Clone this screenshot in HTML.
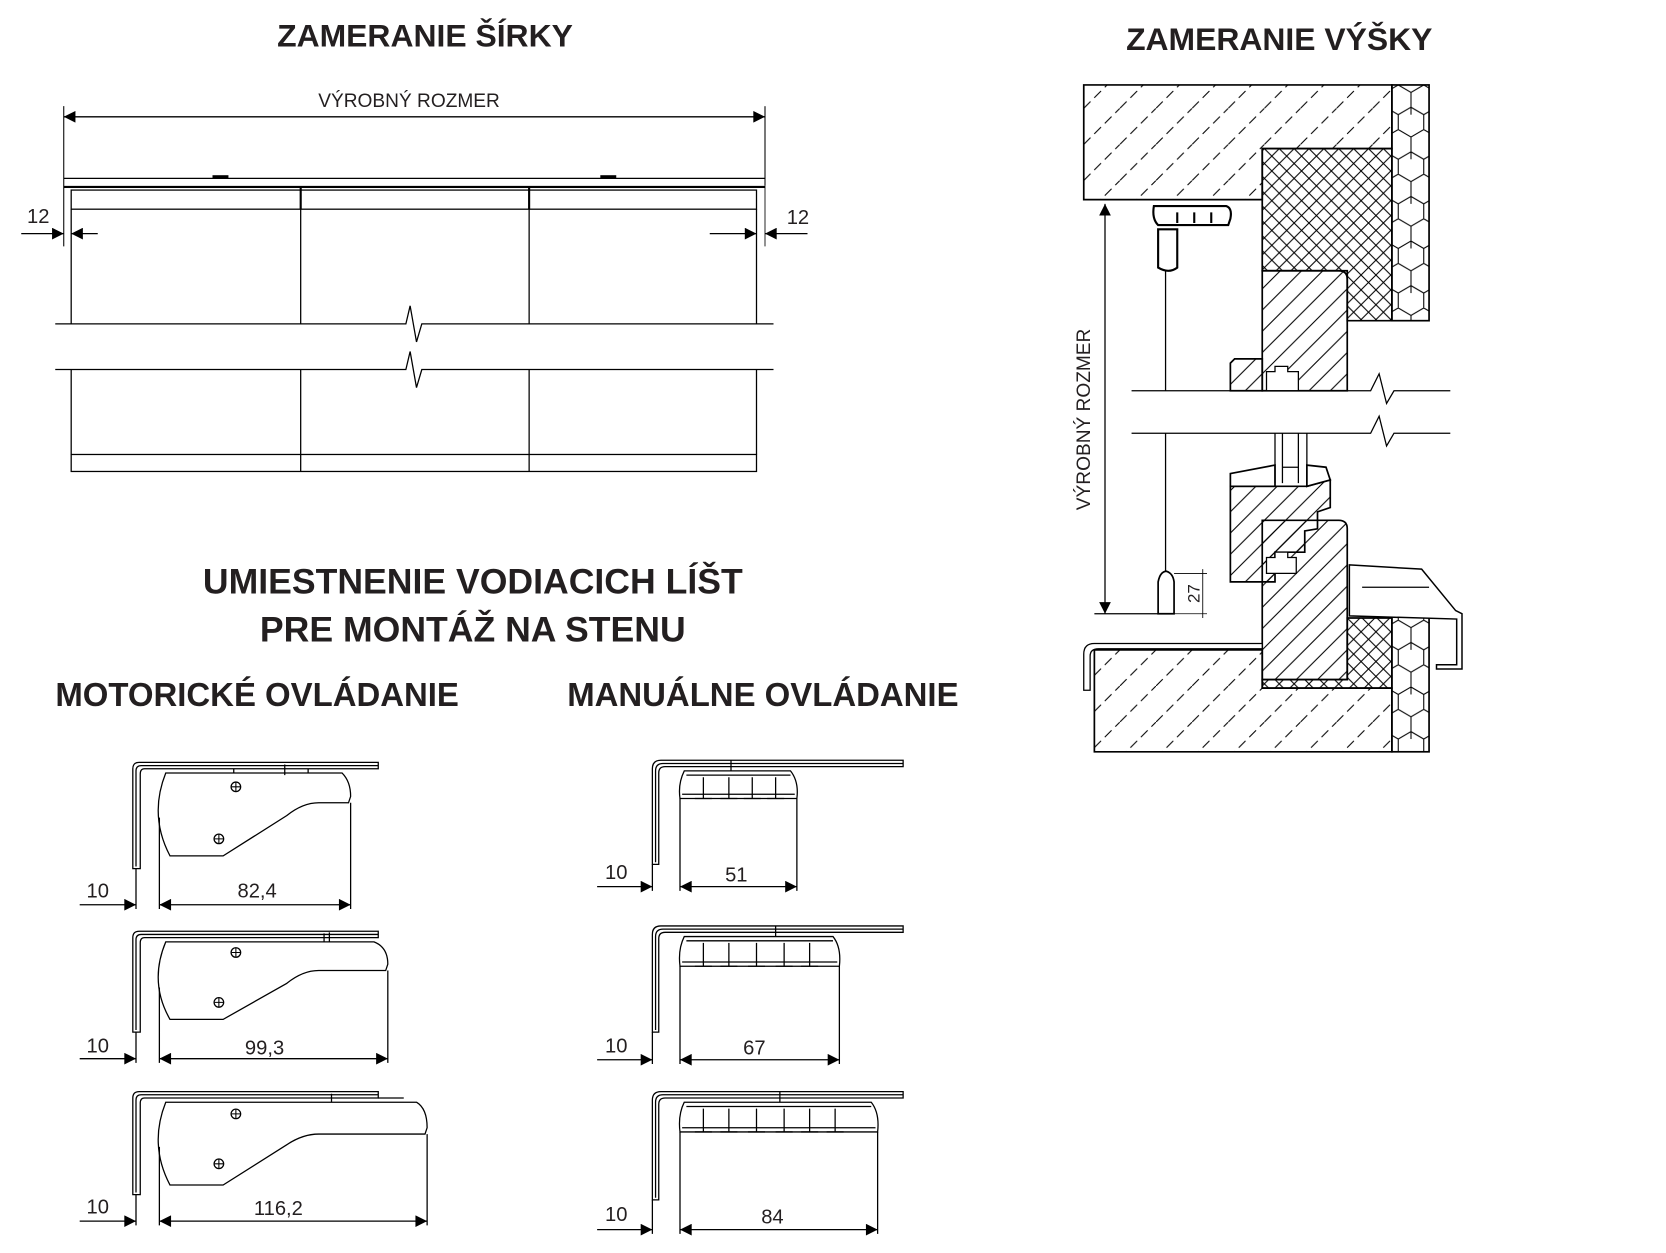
<!DOCTYPE html>
<html><head><meta charset="utf-8"><style>
html,body{margin:0;padding:0;background:#fff;width:1666px;height:1253px;overflow:hidden}
svg{display:block}
text{font-family:"Liberation Sans",sans-serif;fill:#231f20}
.t{font-weight:bold;font-size:30px}
.d{font-size:19px}
</style></head><body>
<svg width="1666" height="1253" viewBox="0 0 1568 1180" preserveAspectRatio="none" xmlns="http://www.w3.org/2000/svg">
<defs>
<marker id="ae" viewBox="0 0 10 10" refX="10" refY="5" markerWidth="17" markerHeight="11" markerUnits="userSpaceOnUse" orient="auto"><path d="M0,0 L10,5 L0,10 Z" fill="#000"/></marker>
<marker id="as" viewBox="0 0 10 10" refX="0" refY="5" markerWidth="17" markerHeight="11" markerUnits="userSpaceOnUse" orient="auto"><path d="M10,0 L0,5 L10,10 Z" fill="#000"/></marker>
<pattern id="conc" width="34" height="34" patternUnits="userSpaceOnUse"><path d="M0,34 L34,0" stroke="#000" stroke-width="1" stroke-dasharray="9 5"/></pattern>
<pattern id="cross" width="14" height="14" patternUnits="userSpaceOnUse"><path d="M0,0 L14,14 M14,0 L0,14" stroke="#000" stroke-width="1"/></pattern>
<pattern id="wood" width="20" height="20" patternUnits="userSpaceOnUse"><path d="M0,20 L20,0 M-5,5 L5,-5 M15,25 L25,15" stroke="#000" stroke-width="1"/></pattern>
<pattern id="hex" width="36" height="42" patternUnits="userSpaceOnUse" x="1310" y="80"><path d="M6,0 L18,7 L18,21 L6,28 L-6,21 L-6,7 Z M30,0 L42,7 L42,21 L30,28 L18,21 L18,7 Z M18,21 L30,28 L30,42 M6,28 L6,42 M18,21 L18,28" fill="none" stroke="#000" stroke-width="1"/></pattern>
</defs>

<text class="t" x="400" y="44" text-anchor="middle">ZAMERANIE ŠÍRKY</text>
<text class="d" x="385" y="101" text-anchor="middle" style="font-size:18px">VÝROBNÝ ROZMER</text>
<line x1="60" y1="110" x2="720" y2="110" stroke="#000" stroke-width="1.2" marker-start="url(#as)" marker-end="url(#ae)"/>
<line x1="60" y1="100" x2="60" y2="232" stroke="#000" stroke-width="1"/>
<line x1="720" y1="100" x2="720" y2="175" stroke="#000" stroke-width="1"/>
<line x1="60" y1="168" x2="720" y2="168" stroke="#000" stroke-width="1.2"/>
<rect x="200" y="165" width="15" height="3" fill="#000"/><rect x="565" y="165" width="15" height="3" fill="#000"/>
<line x1="60" y1="176" x2="720" y2="176" stroke="#000" stroke-width="2"/>
<rect x="67" y="179" width="645" height="18" fill="none" stroke="#000" stroke-width="1.2"/>
<line x1="283" y1="177" x2="283" y2="197" stroke="#000" stroke-width="2"/>
<line x1="498" y1="177" x2="498" y2="197" stroke="#000" stroke-width="2"/>
<g stroke="#000" stroke-width="1.2" fill="none">
<line x1="67" y1="197" x2="67" y2="305"/><line x1="283" y1="197" x2="283" y2="305"/><line x1="498" y1="197" x2="498" y2="305"/><line x1="712" y1="197" x2="712" y2="305"/>
<line x1="67" y1="348" x2="67" y2="428"/><line x1="283" y1="348" x2="283" y2="428"/><line x1="498" y1="348" x2="498" y2="428"/><line x1="712" y1="348" x2="712" y2="428"/>
<path d="M52,305 H382 L386,288 L392,322 L397,305 H728"/>
<path d="M52,348 H382 L386,331 L392,365 L397,348 H728"/>
<rect x="67" y="428" width="645" height="16"/>
<line x1="283" y1="428" x2="283" y2="444"/><line x1="498" y1="428" x2="498" y2="444"/>
<line x1="20" y1="220" x2="60" y2="220" marker-end="url(#ae)"/>
<line x1="92" y1="220" x2="67" y2="220" marker-end="url(#ae)"/>
<line x1="668" y1="220" x2="712" y2="220" marker-end="url(#ae)"/>
<line x1="760" y1="220" x2="720" y2="220" marker-end="url(#ae)"/>
<line x1="720" y1="175" x2="720" y2="232" stroke-width="0.8"/>
</g>
<text class="d" x="36" y="210" text-anchor="middle">12</text>
<text class="d" x="751" y="211" text-anchor="middle">12</text>

<text class="t" x="1204" y="47" text-anchor="middle">ZAMERANIE VÝŠKY</text>
<g stroke="#000" stroke-width="1.6">
<path d="M1020,80 H1310 V140 H1188 V188 H1020 Z" fill="url(#conc)"/>
<path d="M1188,140 H1310 V302 H1268 V255 H1188 Z" fill="url(#cross)"/>
<rect x="1310" y="80" width="35" height="222" fill="url(#hex)"/>
<path d="M1188,255 H1260 Q1268,255 1268,263 V368 H1188 Z" fill="url(#wood)"/>
<path d="M1162,338 H1188 V368 H1158 V342 Z" fill="url(#wood)"/>
<path d="M1192,350 H1200 V345 H1212 V350 H1222 V368 H1192 Z" fill="#fff" stroke-width="1.2"/>
<path d="M1030,612 H1188 V648 H1310 V708 H1030 Z" fill="url(#conc)"/>
<path d="M1268,582 H1310 V648 H1188 V640 H1268 Z" fill="url(#cross)"/>
<rect x="1310" y="580" width="35" height="128" fill="url(#hex)"/>
<path d="M1188,490 H1260 Q1268,490 1268,498 V640 H1188 Z" fill="url(#wood)"/>
<path d="M1158,458 H1230 L1252,452 L1252,478 L1240,482 L1240,498 L1228,500 L1228,520 L1200,520 L1200,548 H1158 Z" fill="url(#wood)"/>
<path d="M1158,446 L1200,438 V458 H1158 Z" fill="#fff"/>
<path d="M1230,438 L1248,440 L1252,452 L1230,458 Z" fill="#fff"/>
<path d="M1192,525 H1200 V520 H1212 V525 H1220 V540 H1192 Z" fill="#fff" stroke-width="1.2"/>
</g>
<g stroke="#000" stroke-width="1.2" fill="none">
<path d="M1200,408 V455 M1207,408 V455 M1222,408 V455 M1230,408 V455 M1207,440 H1222"/>
<path d="M1065,368 H1290 L1298,352 L1305,380 L1312,368 H1365"/>
<path d="M1065,408 H1290 L1298,392 L1305,420 L1312,408 H1365"/>
<path d="M1270,532 L1338,536 L1370,575 L1376,578 L1376,630 L1352,630 L1352,626 L1371,626 L1371,583 L1270,580 Z" fill="#fff" stroke-width="1.4"/>
<path d="M1282,553 H1345"/>
<path d="M1020,650 V616 Q1020,606 1030,606 H1188 V611 H1034 Q1026,611 1026,618 V650 Z" fill="#fff"/>
<line x1="1020" y1="188" x2="1050" y2="188"/>
<line x1="1030" y1="578" x2="1105" y2="578"/>
<line x1="1040" y1="192" x2="1040" y2="578" marker-start="url(#as)" marker-end="url(#ae)"/>
<line x1="1097" y1="255" x2="1097" y2="368"/><line x1="1097" y1="408" x2="1097" y2="540"/>
<path d="M1090,578 V548 Q1092,538 1098,538 Q1104,540 1105,548 V578 Z" fill="#fff" stroke-width="1.6"/>
<path d="M1105,540 H1136 M1105,578 H1136 M1132,536 V582" stroke-width="0.8"/>
<path d="M1086,194 H1154 Q1160,196 1158,206 L1156,212 H1090 Q1084,206 1086,194 Z" fill="#fff" stroke-width="2"/>
<path d="M1108,200 V210 M1124,200 V210 M1140,200 V210" stroke-width="2"/>
<path d="M1090,216 H1108 V252 Q1100,258 1090,252 Z" fill="#fff" stroke-width="2"/>
</g>
<text class="d" transform="translate(1026,395) rotate(-90)" text-anchor="middle" style="font-size:18px">VÝROBNÝ ROZMER</text>
<text class="d" transform="translate(1129,559) rotate(-90)" text-anchor="middle" style="font-size:16px">27</text>

<text class="t" x="445" y="559" text-anchor="middle" style="font-size:33.5px">UMIESTNENIE VODIACICH LÍŠT</text>
<text class="t" x="445" y="604" text-anchor="middle" style="font-size:33.5px">PRE MONTÁŽ NA STENU</text>
<text class="t" x="242" y="665" text-anchor="middle" style="font-size:31px">MOTORICKÉ OVLÁDANIE</text>
<text class="t" x="718" y="665" text-anchor="middle" style="font-size:31px">MANUÁLNE OVLÁDANIE</text>

<g stroke="#000" stroke-width="1.2" fill="none">
<path d="M125,818 V724 Q125,718 131,718 H356 V724 H136 Q132,724 132,729 V818 Z" fill="#fff"/>
<path d="M128,816 V726 Q128,721 133,721 H356"/>
<path d="M156,728 H322 Q330,736 330,750 L328,756 H300 Q285,756 270,768 L210,806 H160 Q140,768 156,728 Z" fill="#fff"/>
<path d="M220,728 V724 M290,728 V724 M268,730 V720"/>
<path d="M128,818 V856 M150,770 V856 M330,756 V856"/>
<line x1="75" y1="852" x2="128" y2="852" marker-end="url(#ae)"/>
<line x1="150" y1="852" x2="330" y2="852" marker-start="url(#as)" marker-end="url(#ae)"/>
<path d="M125,972 V883 Q125,877 131,877 H356 V883 H136 Q132,883 132,888 V972 Z" fill="#fff"/>
<path d="M128,970 V885 Q128,880 133,880 H356"/>
<path d="M156,887 H352 Q365,892 365,908 L363,914 H300 Q285,914 270,926 L210,960 H160 Q140,925 156,887 Z" fill="#fff"/>
<path d="M305,887 V879 M310,887 V878"/>
<path d="M128,972 V1001 M150,930 V1001 M365,914 V1001"/>
<line x1="75" y1="997" x2="128" y2="997" marker-end="url(#ae)"/>
<line x1="150" y1="997" x2="365" y2="997" marker-start="url(#as)" marker-end="url(#ae)"/>
<path d="M125,1125 V1034 Q125,1028 131,1028 H356 V1034 H136 Q132,1034 132,1039 V1125 Z" fill="#fff"/>
<path d="M128,1123 V1036 Q128,1031 133,1031 H356"/>
<path d="M156,1038 H392 Q402,1044 402,1062 L400,1068 H300 Q285,1068 270,1078 L210,1116 H160 Q140,1078 156,1038 Z" fill="#fff"/>
<path d="M312,1038 V1030 M356,1034 H380"/>
<path d="M128,1125 V1154 M150,1080 V1154 M402,1068 V1154"/>
<line x1="75" y1="1150" x2="128" y2="1150" marker-end="url(#ae)"/>
<line x1="150" y1="1150" x2="402" y2="1150" marker-start="url(#as)" marker-end="url(#ae)"/>
</g>
<g fill="#fff" stroke="#000" stroke-width="1.2">
<circle cx="222" cy="741" r="4.5"/><circle cx="206" cy="790" r="4.5"/>
<circle cx="222" cy="897" r="4.5"/><circle cx="206" cy="944" r="4.5"/>
<circle cx="222" cy="1049" r="4.5"/><circle cx="206" cy="1096" r="4.5"/>
</g>
<g stroke="#000" stroke-width="1">
<path d="M218,741 H226 M222,737 V745 M202,790 H210 M206,786 V794 M218,897 H226 M222,893 V901 M202,944 H210 M206,940 V948 M218,1049 H226 M222,1045 V1053 M202,1096 H210 M206,1092 V1100"/>
</g>
<text class="d" x="92" y="845" text-anchor="middle">10</text>
<text class="d" x="242" y="845" text-anchor="middle">82,4</text>
<text class="d" x="92" y="991" text-anchor="middle">10</text>
<text class="d" x="249" y="993" text-anchor="middle">99,3</text>
<text class="d" x="92" y="1143" text-anchor="middle">10</text>
<text class="d" x="262" y="1144" text-anchor="middle">116,2</text>

<g stroke="#000" stroke-width="1.2" fill="none">
<path d="M614,814 V724 Q614,716 622,716 H850 V722 H626 Q620,722 620,728 V814 Z" fill="#fff"/>
<path d="M617,812 V726 Q617,719 624,719 H850"/>
<path d="M644,726 H744 Q752,736 750,752 H640 Q638,738 644,726 Z" fill="#fff"/>
<path d="M646,730 H744 M642,748 H748 M662,732 V752 M686,732 V752 M708,732 V752 M730,732 V752 M654,752 H670 M678,752 H694 M700,752 H716 M722,752 H738 M688,716 V726"/>
<path d="M614,814 V839 M640,752 V839 M750,752 V839"/>
<line x1="562" y1="835" x2="614" y2="835" marker-end="url(#ae)"/>
<line x1="640" y1="835" x2="750" y2="835" marker-start="url(#as)" marker-end="url(#ae)"/>
<path d="M614,972 V880 Q614,872 622,872 H850 V878 H626 Q620,878 620,884 V972 Z" fill="#fff"/>
<path d="M617,970 V882 Q617,875 624,875 H850"/>
<path d="M644,882 H784 Q792,892 790,910 H640 Q638,894 644,882 Z" fill="#fff"/>
<path d="M646,886 H784 M642,906 H788 M662,888 V910 M686,888 V910 M712,888 V910 M738,888 V910 M762,888 V910 M654,910 H670 M678,910 H694 M704,910 H720 M730,910 H746 M754,910 H770 M730,872 V882"/>
<path d="M614,972 V1002 M640,910 V1002 M790,910 V1002"/>
<line x1="562" y1="998" x2="614" y2="998" marker-end="url(#ae)"/>
<line x1="640" y1="998" x2="790" y2="998" marker-start="url(#as)" marker-end="url(#ae)"/>
<path d="M614,1130 V1036 Q614,1028 622,1028 H850 V1034 H626 Q620,1034 620,1040 V1130 Z" fill="#fff"/>
<path d="M617,1128 V1038 Q617,1031 624,1031 H850"/>
<path d="M644,1038 H820 Q828,1048 826,1066 H640 Q638,1050 644,1038 Z" fill="#fff"/>
<path d="M646,1042 H820 M642,1062 H824 M662,1044 V1066 M686,1044 V1066 M712,1044 V1066 M738,1044 V1066 M762,1044 V1066 M786,1044 V1066 M654,1066 H670 M678,1066 H694 M704,1066 H720 M730,1066 H746 M754,1066 H770 M778,1066 H794 M734,1028 V1038"/>
<path d="M614,1130 V1162 M640,1066 V1162 M826,1066 V1162"/>
<line x1="562" y1="1158" x2="614" y2="1158" marker-end="url(#ae)"/>
<line x1="640" y1="1158" x2="826" y2="1158" marker-start="url(#as)" marker-end="url(#ae)"/>
</g>
<text class="d" x="580" y="828" text-anchor="middle">10</text>
<text class="d" x="693" y="830" text-anchor="middle">51</text>
<text class="d" x="580" y="991" text-anchor="middle">10</text>
<text class="d" x="710" y="993" text-anchor="middle">67</text>
<text class="d" x="580" y="1150" text-anchor="middle">10</text>
<text class="d" x="727" y="1152" text-anchor="middle">84</text>
</svg>
</body></html>
